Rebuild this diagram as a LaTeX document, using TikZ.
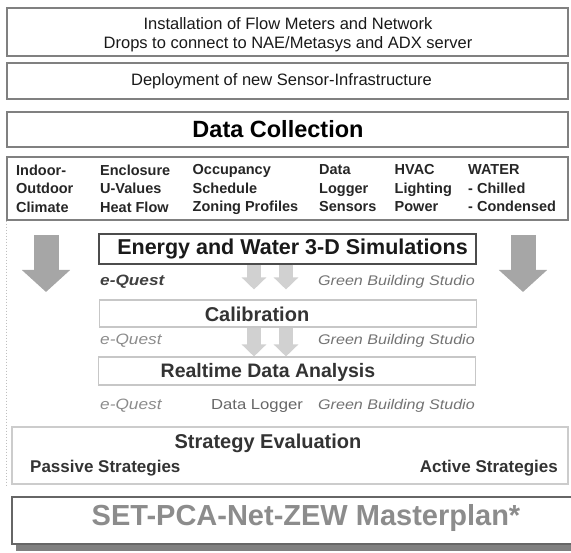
\documentclass[tikz,border=0pt]{standalone}
\usepackage{fontspec}
\setmainfont{Liberation Sans}
\newfontfamily\toolfont{Liberation Sans}[FakeStretch=1.15]
\usetikzlibrary{arrows.meta}
\usetikzlibrary{shadows}

\begin{document}
\begin{tikzpicture}[x=1pt, y=-1pt,
    box/.style={draw=black!50, line width=1.1pt, minimum width=561pt, inner sep=0pt},
    simbox/.style={draw=black!70, line width=1.1pt, minimum width=377pt, minimum height=30pt, inner sep=0pt},
    stagebox/.style={draw=black!22, line width=1.1pt, minimum width=377pt, inner sep=0pt},
    headtext/.style={font=\fontsize{16.5}{19}\selectfont, text=black!90, align=center, inner sep=0pt},
    coltext/.style={font=\fontsize{14.5}{18.5}\selectfont\bfseries, text=black!85, align=left, anchor=west, inner sep=0pt},
    stagetext/.style={font=\fontsize{20}{24}\selectfont\bfseries, text=black!80, inner sep=0pt},
    tooltext/.style={font=\toolfont\fontsize{14}{16}\selectfont\itshape, text=black!55, inner sep=0pt},
    bigarrow/.style={draw=black!35, line width=25pt, -{Triangle[width=47pt, length=22pt]}},
    smallarrow/.style={draw=black!18, line width=14pt, -{Triangle[width=24pt, length=12pt]}}]

    \useasboundingbox (0, 0) rectangle (571, 553);

    \node [box, minimum height=48pt] (install) at (287.5, 32) {};
    \node [headtext] (installtext) at (288, 34.5) {Installation of Flow Meters and Network\\Drops to connect to NAE/Metasys and ADX server};

    \node [box, minimum height=36pt] (deploy) at (287.5, 81) {};
    \node [headtext] (deploytext) at (281.5, 81.5) {Deployment of new Sensor-Infrastructure};

    \node [box, minimum height=35pt] (collect) at (287.5, 129.5) {};
    \node [font=\fontsize{23.5}{28}\selectfont\bfseries, inner sep=0pt] (collecttext) at (278, 129.5) {Data Collection};

    \node [box, minimum height=63pt] (params) at (287.5, 188.5) {};
    \node [coltext] (climate) at (16, 188.5) {Indoor-\\Outdoor\\Climate};
    \node [coltext] (enclosure) at (100, 188.5) {Enclosure\\U-Values\\Heat Flow};
    \node [coltext] (occupancy) at (192.5, 189.5) {Occupancy\\Schedule\\Zoning Profiles};
    \node [coltext] (logger) at (319, 188.5) {Data\\Logger\\Sensors};
    \node [coltext] (hvac) at (394.5, 188.5) {HVAC\\Lighting\\Power};
    \node [coltext] (water) at (468, 188.5) {WATER\\- Chilled\\- Condensed};

    \node [simbox] (sim) at (287.5, 249) {};
    \node [stagetext, font=\fontsize{21.5}{26}\selectfont\bfseries, text=black!90] (simtext) at (292.5, 249) {Energy and Water 3-D Simulations};

    \node [stagebox, minimum height=27pt] (calib) at (288, 313.5) {};
    \node [stagetext] (calibtext) at (257, 314) {Calibration};

    \node [stagebox, minimum height=28pt] (realtime) at (287, 371) {};
    \node [stagetext, font=\fontsize{19.5}{24}\selectfont\bfseries] (realtimetext) at (268, 372) {Realtime Data Analysis};

    \node [tooltext, anchor=west, text=black!75, font=\toolfont\fontsize{15}{16}\selectfont\bfseries\itshape] (quest1) at (100, 282) {e-Quest};
    \node [tooltext, anchor=east] (studio1) at (475, 282) {Green Building Studio};
    \node [tooltext, anchor=west, text=black!45, font=\toolfont\fontsize{15}{16}\selectfont\itshape] (quest2) at (100, 341) {e-Quest};
    \node [tooltext, anchor=east] (studio2) at (475, 341) {Green Building Studio};
    \node [tooltext, anchor=west, text=black!45, font=\toolfont\fontsize{15}{16}\selectfont\itshape] (quest3) at (100, 406) {e-Quest};
    \node [tooltext, text=black!60, font=\toolfont\fontsize{14.5}{16}\selectfont] (datalogger) at (257, 406) {Data Logger};
    \node [tooltext, anchor=east] (studio3) at (475, 406) {Green Building Studio};

    \draw [smallarrow, shorten >=10pt] ([xshift=-33.5pt]sim.south) -- ([xshift=-34pt]calib.north);
    \draw [smallarrow, shorten >=10pt] ([xshift=-1.5pt]sim.south) -- ([xshift=-2pt]calib.north);
    \draw [smallarrow] ([xshift=-34pt]calib.south) -- ([xshift=-33pt]realtime.north);
    \draw [smallarrow] ([xshift=-2pt]calib.south) -- ([xshift=-1pt]realtime.north);

    \coordinate (lefttop) at (46, 235);
    \coordinate (lefttip) at (46, 292);
    \coordinate (righttop) at (523, 235);
    \coordinate (righttip) at (523, 292);
    \draw [bigarrow] (lefttop) -- (lefttip);
    \draw [bigarrow] (righttop) -- (righttip);

    \node [box, draw=black!20, line width=1.5pt, minimum width=556pt, minimum height=57pt] (strategy) at (290, 455.5) {};
    \node [stagetext] (strategytext) at (268, 443) {Strategy Evaluation};
    \node [stagetext, font=\fontsize{17}{20}\selectfont\bfseries, anchor=west] (passive) at (30, 468) {Passive Strategies};
    \node [stagetext, font=\fontsize{17}{20}\selectfont\bfseries, anchor=east] (active) at (558, 468) {Active Strategies};

    \draw [dotted, black!25, line width=1pt] (params.south west) -- (params.south west |- strategy.south);

    \node [box, draw=black!60, fill=white, minimum width=562pt, minimum height=47pt,
        drop shadow={shadow xshift=4pt, shadow yshift=-7pt, fill=black!50, opacity=1}] (master) at (293, 520.5) {};
    \node [font=\fontsize{29}{34}\selectfont\bfseries, text=black!45, inner sep=0pt] (mastertext) at (306, 518) {SET-PCA-Net-ZEW Masterplan*};
\end{tikzpicture}
\end{document}
